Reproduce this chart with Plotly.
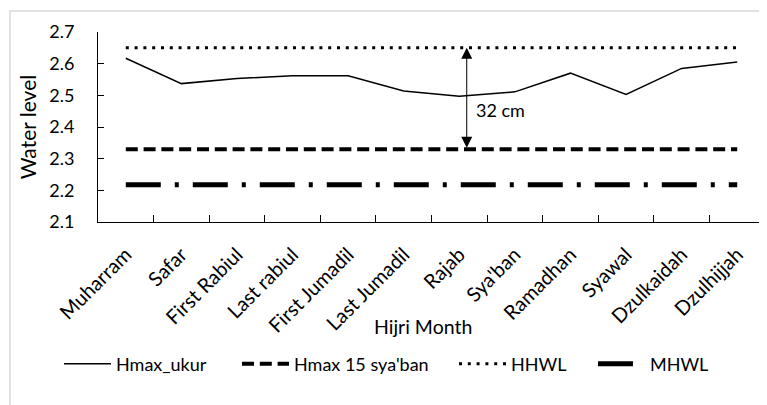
import plotly.graph_objects as go

months = ["Muharram", "Safar", "First Rabiul", "Last rabiul", "First Jumadil", "Last Jumadil",
          "Rajab", "Sya'ban", "Ramadhan", "Syawal", "Dzulkaidah", "Dzulhijjah"]
hmax_ukur = [2.617, 2.537, 2.553, 2.562, 2.562, 2.514, 2.497, 2.511, 2.570, 2.503, 2.585, 2.605]
hmax_15_syaban = [2.33] * 12
hhwl = [2.65] * 12
mhwl = [2.218] * 12
y_ticks = [2.1, 2.2, 2.3, 2.4, 2.5, 2.6, 2.7]

FONT = "Lato"
OFF = 8  # page body margin
W, H = 767 - OFF, 405 - OFF
# plot area in window pixels: x 98..765, y 32..222
L = 98 - OFF
R = W - (765 - OFF)
T = 32 - OFF
B = H - (222 - OFF)
pw = W - L - R
ph = H - T - B

def fx(px):  # figure px -> paper
    return (px - L) / pw

def fy(py):
    return (H - B - py) / ph

fig = go.Figure()
fig.add_trace(go.Scatter(x=months, y=hmax_ukur, mode="lines", name="Hmax_ukur",
                         line=dict(color="black", width=1.5), legend="legend"))
fig.add_trace(go.Scatter(x=months, y=hmax_15_syaban, mode="lines", name="Hmax 15 sya'ban",
                         line=dict(color="black", width=4, dash="12px,5.8px"), legend="legend2"))
fig.add_trace(go.Scatter(x=months, y=hhwl, mode="lines", name="HHWL",
                         line=dict(color="black", width=3, dash="3px,5.8px"), legend="legend3"))
fig.add_trace(go.Scatter(x=months, y=mhwl, mode="lines", name="MHWL",
                         line=dict(color="black", width=5, dash="35px,14px,4px,14px"), legend="legend4"))

leg_y = fy(356)
text_starts = [118, 296, 513, 652]
ITEMW = 47
legs = {}
for i, ts in enumerate(text_starts):
    key = "legend" if i == 0 else f"legend{i+1}"
    legs[key] = dict(x=fx(ts - ITEMW - 20), xanchor="left", y=leg_y, yanchor="middle",
                     orientation="h", bgcolor="rgba(0,0,0,0)", borderwidth=0, itemwidth=ITEMW,
                     font=dict(family=FONT, size=18, color="black"))
fig.update_layout(**legs)

# 32 cm arrow
fig.add_annotation(x=6.134, y=2.65, ax=6.134, ay=2.33, xref="x", yref="y", axref="x", ayref="y",
                   text="", showarrow=True, arrowhead=2, arrowside="end+start",
                   arrowsize=2.2, arrowwidth=1, arrowcolor="black", standoff=0, startstandoff=0)
fig.add_annotation(x=6.26, y=2.454, xref="x", yref="y", text="32 cm", showarrow=False,
                   xanchor="left", yanchor="middle", font=dict(family=FONT, size=18, color="black"))

# x-axis title
fig.add_annotation(x=fx(415), y=fy(318), xref="paper", yref="paper",
                   text="Hijri Month", showarrow=False, xanchor="center", yanchor="middle",
                   font=dict(family=FONT, size=19.5, color="black"))

# outer light border
fig.add_shape(type="rect", xref="paper", yref="paper",
              x0=fx(2), x1=fx(800), y0=fy(460), y1=fy(3),
              line=dict(color="#d9d9d9", width=1.5), fillcolor="rgba(0,0,0,0)", layer="below")

fig.update_xaxes(type="category", range=[-0.5, 11.5], showline=True, linecolor="black", linewidth=1,
                 ticks="inside", ticklen=7, tickcolor="black", tickson="boundaries",
                 tickangle=-45, showgrid=False, zeroline=False, ticklabelstandoff=12,
                 ticklabelshift=0,
                 tickfont=dict(family=FONT, size=20, color="black"))
fig.update_yaxes(range=[2.1, 2.7], tickvals=y_ticks, ticktext=[f"{v:.1f}" for v in y_ticks],
                 showline=True, linecolor="black", linewidth=1, ticks="inside", ticklen=6,
                 tickcolor="black", showgrid=False, zeroline=False, ticklabelstandoff=19,
                 tickfont=dict(family=FONT, size=18, color="black"),
                 title=dict(text="Water level", font=dict(family=FONT, size=21, color="black"), standoff=6))

fig.update_layout(width=W, height=H, margin=dict(l=L, r=R, t=T, b=B, autoexpand=False),
                  plot_bgcolor="white", paper_bgcolor="white", showlegend=True)

fig.write_html("out.html")
